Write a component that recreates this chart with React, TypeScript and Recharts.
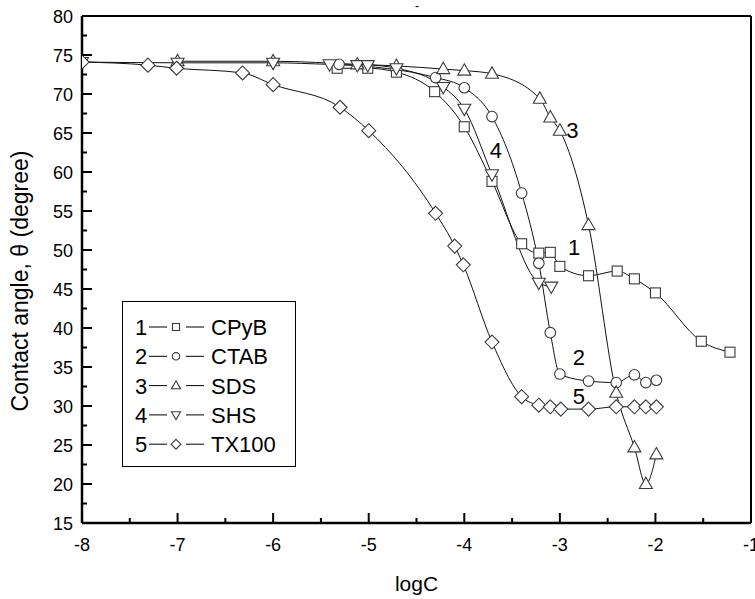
import React from "react";
import { LineChart, Line, XAxis, YAxis, ReferenceLine, ReferenceDot } from "recharts";

// logC values and contact angles
const cpybX = [-5.33, -5.01, -4.71, -4.31, -4.0, -3.71, -3.4, -3.22, -3.1, -3.0, -2.7, -2.4, -2.22, -2.0, -1.52, -1.22];
const cpybY = [73.3, 73.3, 72.8, 70.3, 65.8, 58.8, 50.8, 49.6, 49.7, 47.9, 46.7, 47.3, 46.3, 44.5, 38.3, 36.9];

const ctabX = [-5.31, -4.3, -4.0, -3.71, -3.4, -3.22, -3.1, -3.0, -2.7, -2.41, -2.22, -2.1, -1.99];
const ctabY = [73.8, 72.1, 70.8, 67.1, 57.3, 48.3, 39.4, 34.1, 33.2, 33.0, 34.0, 33.0, 33.3];

const sdsX = [-7.0, -6.0, -5.12, -4.71, -4.22, -4.0, -3.71, -3.21, -3.1, -3.0, -2.7, -2.41, -2.22, -2.1, -1.99];
const sdsY = [74.2, 74.2, 73.8, 73.6, 73.2, 73.0, 72.6, 69.4, 67.0, 65.3, 53.2, 31.7, 24.7, 20.0, 23.8];

const shsX = [-8.0, -7.0, -6.0, -5.41, -5.12, -5.01, -4.71, -4.22, -4.0, -3.71, -3.22, -3.09];
const shsY = [74.1, 74.0, 74.0, 73.8, 73.7, 73.7, 73.3, 70.9, 68.1, 59.7, 45.8, 45.3];

const txX = [-8.0, -7.31, -7.01, -6.32, -6.0, -5.3, -5.0, -4.3, -4.1, -4.01, -3.71, -3.4, -3.22, -3.1, -2.99, -2.7, -2.41, -2.22, -2.1, -1.99];
const txY = [74.1, 73.7, 73.3, 72.7, 71.2, 68.3, 65.3, 54.7, 50.5, 48.1, 38.2, 31.2, 30.1, 29.9, 29.6, 29.6, 29.9, 29.9, 29.9, 29.9];

const xTicks = [-8, -7.5, -7, -6.5, -6, -5.5, -5, -4.5, -4, -3.5, -3, -2.5, -2, -1.5, -1];
const yTicks = [15, 17.5, 20, 22.5, 25, 27.5, 30, 32.5, 35, 37.5, 40, 42.5, 45, 47.5, 50, 52.5, 55, 57.5, 60, 62.5, 65, 67.5, 70, 72.5, 75, 77.5, 80];

// curve number annotations
const curveLabels = [
  { n: "1", x: -2.85, y: 50.3 },
  { n: "2", x: -2.8, y: 36.3 },
  { n: "3", x: -2.87, y: 65.4 },
  { n: "4", x: -3.67, y: 62.8 },
  { n: "5", x: -2.8, y: 31.2 },
];

const zip = (xs: number[], ys: number[]) => xs.map((x, i) => ({ x, y: ys[i] }));

const series = [
  { num: "1", name: "CPyB", shape: "square", data: zip(cpybX, cpybY) },
  { num: "2", name: "CTAB", shape: "circle", data: zip(ctabX, ctabY) },
  { num: "3", name: "SDS", shape: "up", data: zip(sdsX, sdsY) },
  { num: "4", name: "SHS", shape: "down", data: zip(shsX, shsY) },
  { num: "5", name: "TX100", shape: "diamond", data: zip(txX, txY) },
];

const FONT = "'Liberation Sans', Arial, sans-serif";
const MARK = "#3a3a3a";

function Marker({ shape, cx, cy, s = 1 }: { shape: string; cx: number; cy: number; s?: number }) {
  const p = { fill: "#fff", stroke: MARK, strokeWidth: 1.1 };
  if (shape === "square") {
    const h = 5 * s;
    return <rect x={cx - h} y={cy - h} width={2 * h} height={2 * h} {...p} />;
  }
  if (shape === "circle") return <circle cx={cx} cy={cy} r={5.3 * s} {...p} />;
  if (shape === "up") {
    const w = 6.5 * s;
    return <path d={`M${cx},${cy - w * 1.05} L${cx + w},${cy + w * 0.7} L${cx - w},${cy + w * 0.7} Z`} {...p} />;
  }
  if (shape === "down") {
    const w = 6.5 * s;
    return <path d={`M${cx},${cy + w * 1.05} L${cx + w},${cy - w * 0.7} L${cx - w},${cy - w * 0.7} Z`} {...p} />;
  }
  const d = 7 * s;
  return <path d={`M${cx},${cy - d} L${cx + d},${cy} L${cx},${cy + d} L${cx - d},${cy} Z`} {...p} />;
}

const XTick = (props: any) => {
  const { x, y, payload } = props;
  const major = Number.isInteger(payload.value);
  return (
    <g>
      <line x1={x} x2={x} y1={y} y2={y - (major ? 10 : 5)} stroke="#000" strokeWidth={2} />
      {major && (
        <text x={x} y={y + 28} textAnchor="middle" fontSize={18} fontFamily={FONT} fill="#000">
          {payload.value}
        </text>
      )}
    </g>
  );
};

const YTick = (props: any) => {
  const { x, y, payload } = props;
  const major = payload.value % 5 === 0;
  return (
    <g>
      <line x1={x} x2={x + (major ? 10 : 5)} y1={y} y2={y} stroke="#000" strokeWidth={2} />
      {major && (
        <text x={x - 9} y={y + 6.5} textAnchor="end" fontSize={18} fontFamily={FONT} fill="#000">
          {payload.value}
        </text>
      )}
    </g>
  );
};

const YTitle = () => (
  <text transform="translate(28,281) rotate(-90)" textAnchor="middle" fontSize={23} fontFamily={FONT} fill="#000">
    Contact angle, θ (degree)
  </text>
);

const LegendBox = () => (
  <svg width={174} height={166} style={{ display: "block" }}>
    <rect x={0.5} y={0.5} width={173} height={165} fill="#fff" stroke="#000" strokeWidth={1} />
    {series.map((s, i) => {
      const cy = 26 + i * 29.3;
      return (
        <g key={s.name}>
          <text x={13} y={cy + 8} fontSize={22} fontFamily={FONT} fill="#000">{s.num}</text>
          <line x1={27} x2={45} y1={cy} y2={cy} stroke="#000" strokeWidth={1} />
          <Marker shape={s.shape} cx={54} cy={cy} s={0.7} />
          <line x1={64} x2={82} y1={cy} y2={cy} stroke="#000" strokeWidth={1} />
          <text x={89} y={cy + 8} fontSize={22} fontFamily={FONT} fill="#000">{s.name}</text>
        </g>
      );
    })}
  </svg>
);

export default function App() {
  return (
    <div style={{ position: "absolute", left: 0, top: 0, width: 755, height: 599, background: "#fff" }}>
      <LineChart width={755} height={599} margin={{ top: 16, right: 4, left: 0, bottom: 0 }}>
        <XAxis
          type="number"
          dataKey="x"
          domain={[-8, -1]}
          ticks={xTicks}
          interval={0}
          tick={<XTick />}
          tickLine={false}
          tickSize={0}
          tickMargin={0}
          height={76}
          axisLine={{ stroke: "#000", strokeWidth: 2.5 }}
          allowDataOverflow
          label={{ value: "logC", position: "insideBottom", offset: 8, fontSize: 21, fontFamily: FONT, fill: "#000" }}
        />
        <YAxis
          type="number"
          dataKey="y"
          domain={[15, 80]}
          ticks={yTicks}
          interval={0}
          tick={<YTick />}
          tickLine={false}
          tickSize={0}
          tickMargin={0}
          width={82}
          axisLine={{ stroke: "#000", strokeWidth: 2.5 }}
          allowDataOverflow
          label={{ content: () => <YTitle /> }}
        />
        <ReferenceLine y={80} stroke="#000" strokeWidth={2} />
        <ReferenceLine x={-1} stroke="#000" strokeWidth={2} />
        {series.map((s) => (
          <Line
            key={s.name}
            data={s.data}
            dataKey="y"
            type="monotone"
            stroke="#111"
            strokeWidth={1}
            isAnimationActive={false}
            legendType="none"
            dot={(p: any) => <Marker key={`${s.name}-${p.index}`} shape={s.shape} cx={p.cx} cy={p.cy} />}
            activeDot={false}
          />
        ))}
        {curveLabels.map((l) => (
          <ReferenceDot
            key={l.n}
            x={l.x}
            y={l.y}
            r={0}
            stroke="none"
            fill="none"
            label={{ value: l.n, position: "center", fontSize: 22, fontFamily: FONT, fill: "#000" }}
          />
        ))}
      </LineChart>
      <div style={{ position: "absolute", left: 122, top: 301 }}>
        <LegendBox />
      </div>
      <svg width={20} height={12} style={{ position: "absolute", left: 410, top: 0 }}>
        <text x={5} y={10} fontSize={12} fontFamily={FONT} fill="#000">-</text>
      </svg>
    </div>
  );
}
